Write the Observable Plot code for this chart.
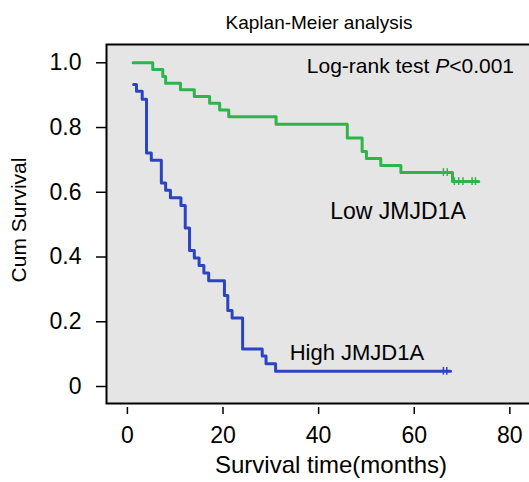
<!DOCTYPE html>
<html><head><meta charset="utf-8">
<script src="https://cdn.jsdelivr.net/npm/d3@7"></script>
<script src="https://cdn.jsdelivr.net/npm/@observablehq/plot@0.6"></script>
<style>
html,body{margin:0;padding:0;background:#fff;overflow:hidden}
svg{overflow:hidden}
</style>
</head><body><div id="chart"></div>
<script>
// Low JMJD1A group (green): step times (months) and cumulative survival
const lowTime = [1.2, 5.3, 7.4, 8.0, 11.1, 14.0, 17.2, 19.3, 21.2, 31.1, 46.0, 49.1, 50.0, 53.0, 57.2, 68.0, 73.5];
const lowSurv = [1.0, 0.979, 0.958, 0.937, 0.917, 0.896, 0.875, 0.854, 0.833, 0.810, 0.768, 0.726, 0.704, 0.683, 0.661, 0.633, 0.633];
const lowCensorTime = [66.1, 66.9, 68.4, 69.3, 70.2, 72.1, 72.8];
const lowCensorSurv = [0.661, 0.661, 0.633, 0.633, 0.633, 0.633, 0.633];
// High JMJD1A group (blue)
const highTime = [1.3, 1.9, 3.1, 4.0, 5.0, 7.1, 8.0, 9.0, 11.2, 12.1, 13.0, 14.0, 15.0, 16.0, 17.0, 20.3, 21.0, 21.9, 24.1, 28.2, 29.0, 31.0, 67.6];
const highSurv = [0.933, 0.912, 0.887, 0.721, 0.699, 0.629, 0.606, 0.583, 0.559, 0.490, 0.420, 0.397, 0.374, 0.351, 0.327, 0.281, 0.235, 0.212, 0.116, 0.094, 0.070, 0.047, 0.047];
const highCensorTime = [66.1, 66.8];
const highCensorSurv = [0.047, 0.047];

const xTicks = [0, 20, 40, 60, 80];
const yTicks = [0, 0.2, 0.4, 0.6, 0.8, 1.0];

const titleText = "Kaplan-Meier analysis";
const xLabel = "Survival time(months)";
const yLabel = "Cum Survival";
const annotations = [
  {label: "Log-rank test P<0.001", t: 59.2, s: 0.988, size: 21},
  {label: "Low JMJD1A", t: 56.6, s: 0.541, size: 23},
  {label: "High JMJD1A", t: 48.0, s: 0.105, size: 22}
];

const green = "#2fb34b";
const blue = "#2b45c2";
const font = "Liberation Sans, Arial, sans-serif";

const low = lowTime.map((t, i) => ({t, s: lowSurv[i]}));
const high = highTime.map((t, i) => ({t, s: highSurv[i]}));
const lowC = lowCensorTime.map((t, i) => ({t, s: lowCensorSurv[i]}));
const highC = highCensorTime.map((t, i) => ({t, s: highCensorSurv[i]}));

const chart = Plot.plot({
  width: 529,
  height: 482,
  marginLeft: 106,
  marginRight: -10,
  marginTop: 44,
  marginBottom: 79,
  style: {fontFamily: font, background: "white", overflow: "hidden"},
  x: {domain: [-4.37, 86.2]},
  y: {domain: [-0.0525, 1.0565]},
  marks: [
    Plot.frame({fill: "#e5e5e5", stroke: "black", strokeWidth: 2}),
    Plot.axisY({ticks: yTicks, tickFormat: d => d === 0 ? "0" : d.toFixed(1), tickSize: 10, tickPadding: 15, fontSize: 23, label: null, stroke: "black", strokeWidth: 1.5, color: "black"}),
    Plot.axisX({ticks: xTicks, tickSize: 7, tickPadding: 12, dy: 4, fontSize: 23, label: null, stroke: "black", strokeWidth: 1.5, color: "black"}),
    Plot.line(low, {x: "t", y: "s", curve: "step-after", stroke: green, strokeWidth: 3}),
    Plot.line(high, {x: "t", y: "s", curve: "step-after", stroke: blue, strokeWidth: 3}),
    Plot.ruleX(lowC, {x: "t", y1: d => d.s - 0.012, y2: d => d.s + 0.012, stroke: green, strokeWidth: 1.5}),
    Plot.ruleX(highC, {x: "t", y1: d => d.s - 0.012, y2: d => d.s + 0.012, stroke: blue, strokeWidth: 1.5}),
    Plot.text(annotations, {x: "t", y: "s", text: "label", fontSize: d => d.size, fill: "black"}),
    Plot.text([titleText], {frameAnchor: "top", text: d => d, textAnchor: "middle", lineAnchor: "middle", dx: -4, dy: -22, fontSize: 19, fill: "black"}),
    Plot.text([xLabel], {frameAnchor: "bottom", text: d => d, textAnchor: "middle", lineAnchor: "middle", dx: 8, dy: 62, fontSize: 24, fill: "black"}),
    Plot.text([yLabel], {frameAnchor: "left", text: d => d, textAnchor: "middle", lineAnchor: "middle", rotate: -90, dx: -87, dy: -4, fontSize: 21, fill: "black"})
  ]
});

// italic P in the log-rank annotation
chart.querySelectorAll("text").forEach(el => {
  if (el.textContent === "Log-rank test P<0.001") {
    el.textContent = "";
    const ns = "http://www.w3.org/2000/svg";
    const a = document.createElementNS(ns, "tspan"); a.textContent = "Log-rank test ";
    const b = document.createElementNS(ns, "tspan"); b.textContent = "P"; b.setAttribute("font-style", "italic");
    const c = document.createElementNS(ns, "tspan"); c.textContent = "<0.001";
    el.append(a, b, c);
  }
});

document.getElementById("chart").appendChild(chart);
</script>
</body></html>
